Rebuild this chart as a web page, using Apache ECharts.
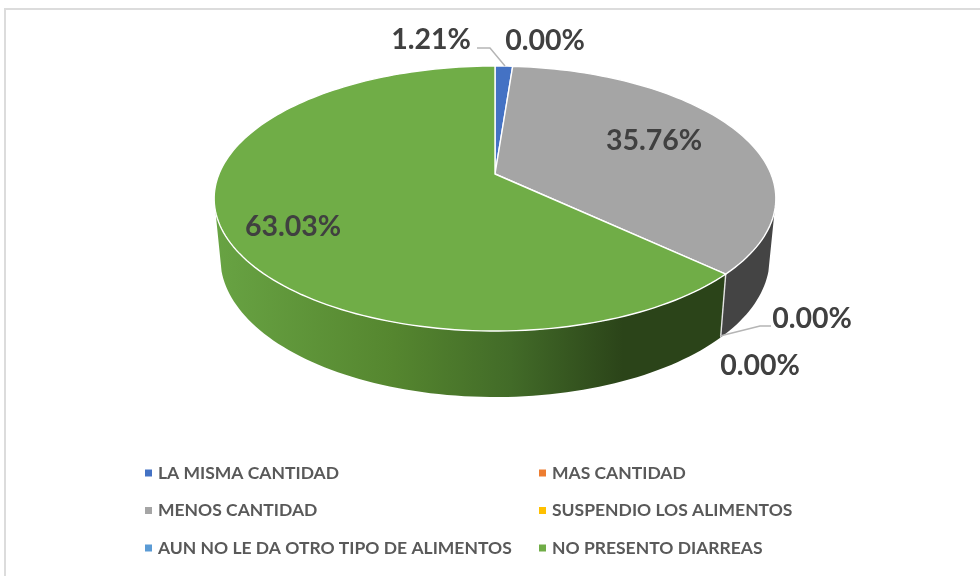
<!DOCTYPE html>
<html>
<head>
<meta charset="utf-8">
<style>html,body{margin:0;padding:0;background:#fff}#c{width:980px;height:576px}</style>
<script src="https://cdn.jsdelivr.net/npm/echarts@6/dist/echarts.min.js"></script>
</head>
<body>
<div id="c"></div>
<script>
const categories = ['LA MISMA CANTIDAD','MAS CANTIDAD','MENOS CANTIDAD','SUSPENDIO LOS ALIMENTOS','AUN NO LE DA OTRO TIPO DE ALIMENTOS','NO PRESENTO DIARREAS'];
const values = [1.21, 0, 35.76, 0, 0, 63.03];
const colors = ['#4472c4','#ed7d31','#a5a5a5','#ffc000','#5b9bd5','#70ad47'];

// Label anchors and leader lines (px)
const labelAt = [[431,40],[545,41],[654,141],[812,319],[760,366],[293,227]];
const leaders = {0:[[477,48],[490,48],[505,66]], 3:[[720,336],[760,326],[771,326]]};
const labelSize = 28.5;

// Perspective disc: the unit circle is projected with a homography
const P = {cx:495, cy:174, a:95.8, c:-0.185, d:276, wallX:0.978, wallBase:58, wallTilt:8, wallFrom:106};
function rim(deg){
  const t = deg*Math.PI/180, u = Math.sin(t), v = -Math.cos(t), w = 1+P.c*v;
  return [P.cx + P.d*u/w, (P.cy + P.a*v)/w, v];
}
function floor(deg){
  const p = rim(deg);
  return [P.cx + (p[0]-P.cx)*P.wallX, p[1] + P.wallBase + P.wallTilt*p[2]];
}
function arc(a,b,fn){
  const n = Math.max(2,Math.ceil(Math.abs(b-a)/1.5)), pts = [];
  for(let i=0;i<=n;i++){ pts.push(fn(a+(b-a)*i/n).slice(0,2)); }
  return pts;
}
const total = values.reduce((s,x)=>s+x,0);
function startAngle(idx){ let s=0; for(let i=0;i<idx;i++) s+=values[i]; return s/total*360; }

const wallFill = {
  2:'#444444',
  5:{type:'linear',x:215,y:0,x2:725,y2:0,global:true,colorStops:[
    {offset:0,color:'#68a343'},{offset:0.35,color:'#55862f'},{offset:0.58,color:'#426b28'},{offset:0.8,color:'#2b4419'},{offset:1,color:'#2b4419'}]}
};

function makeRender(idx){
  return function(params, api){
    const val = api.value(0);
    const children = [];
    const a0 = startAngle(idx), a1 = a0 + val/total*360;
    if(val>0){
      const top = arc(a0,a1,rim);
      if(wallFill[idx]){
        // only the front of the wall, where the disc's rim is in front of it
        const w0 = Math.max(a0,P.wallFrom), w1 = Math.min(a1,360-P.wallFrom);
        if(w1>w0){
          children.push({type:'polygon',z2:1,shape:{points:arc(w0,w1,rim).concat(arc(w0,w1,floor).reverse())},style:{fill:wallFill[idx]},silent:true});
        }
      }
      children.push({type:'polygon',z2:3,shape:{points:[[P.cx,P.cy]].concat(top)},
        style:{fill:colors[idx],stroke:'#ffffff',lineWidth:1.4,lineJoin:'round'},silent:true});
      // white seam down the wall at the slice's start
      if(idx===5){
        const p=rim(a0), q=floor(a0);
        children.push({type:'line',z2:2,shape:{x1:p[0],y1:p[1],x2:q[0],y2:q[1]},style:{stroke:'#e4e4e4',lineWidth:1.4},silent:true});
      }
    }
    if(leaders[idx]){
      children.push({type:'polyline',z2:4,shape:{points:leaders[idx]},style:{fill:null,stroke:'#b5b5b5',lineWidth:1.5},silent:true});
    }
    children.push({type:'text',z2:5,x:labelAt[idx][0],y:labelAt[idx][1],
      style:{text:val.toFixed(2)+'%',font:'bold '+labelSize+'px Lato, sans-serif',fill:'#404040',align:'center',verticalAlign:'middle'},silent:true});
    return {type:'group',children};
  };
}

const legendText = {color:'#595959',fontSize:17.5,fontWeight:'bold',fontFamily:'Lato, sans-serif',padding:[0,0,0,1]};
const legendBase = {orient:'vertical',icon:'rect',itemWidth:7,itemHeight:7,itemGap:19.5,padding:0,selectedMode:false,textStyle:legendText};

const option = {
  animation:false,
  backgroundColor:'#ffffff',
  legend:[
    Object.assign({},legendBase,{left:145,top:464,data:[categories[0],categories[2],categories[4]]}),
    Object.assign({},legendBase,{left:539,top:464,data:[categories[1],categories[3],categories[5]]})
  ],
  graphic:[
    {type:'rect',silent:true,z:-1,shape:{x:4,y:8,width:976,height:2},style:{fill:'#dcdcdc'}},
    {type:'rect',silent:true,z:-1,shape:{x:4,y:8,width:2,height:568},style:{fill:'#dcdcdc'}}
  ],
  series:categories.map((name,i)=>({
    type:'custom',name,coordinateSystem:'none',
    itemStyle:{color:colors[i]},
    data:[[values[i]]],
    renderItem:makeRender(i),
    clip:false
  }))
};
echarts.init(document.getElementById('c'),null,{renderer:'canvas'}).setOption(option);
</script>
</body>
</html>
